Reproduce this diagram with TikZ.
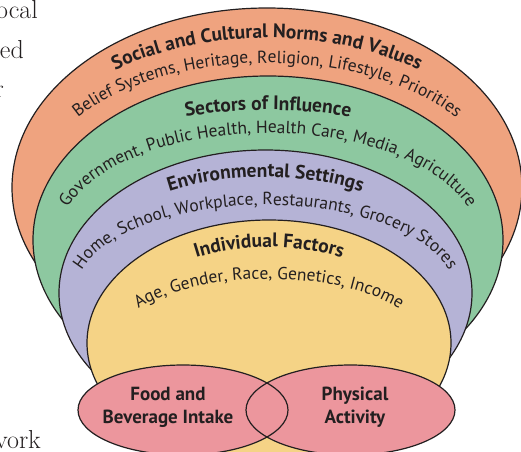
\documentclass[tikz,border=0pt]{standalone}
\usepackage{fontspec}
\newfontfamily\figfont{PT Sans}
\usetikzlibrary{decorations.text}

\definecolor{ink}{HTML}{231F20}
\definecolor{normsfill}{HTML}{EFA37F}
\definecolor{sectorfill}{HTML}{8DC8A0}
\definecolor{settingfill}{HTML}{B5B3D6}
\definecolor{personfill}{HTML}{F5D386}
\definecolor{behavefill}{HTML}{EC969D}

\newcommand\bandtitle{\figfont\fontsize{19.5}{22}\selectfont\bfseries\color{ink}}
\newcommand\bandtext{\figfont\fontsize{17.5}{20}\selectfont\color{ink}}

\begin{document}
\begin{tikzpicture}[x=1pt, y=1pt,
  layer/.style={draw=ink, line width=1.20pt},
  blobtext/.style={font=\figfont\bfseries\fontsize{19}{23}\selectfont, text=ink, align=center, inner sep=0pt},
  pagetext/.style={font=\fontsize{26}{30}\selectfont, text=ink, anchor=base east, inner sep=0pt}]
\useasboundingbox (0,0) rectangle (521,451);
\coordinate (CN) at (267.00, 263.50); % norms
\coordinate (CS) at (268.00, 211.00); % sectors
\coordinate (CE) at (265.50, 158.00); % settings
\coordinate (CI) at (269.00, 108.00); % individual
\coordinate (CF) at (183.00, 41.00); % food
\coordinate (CA) at (350.50, 41.00); % activity

\draw[layer, fill=normsfill] (CN) ellipse [x radius=255, y radius=179.5];
\draw[layer, fill=sectorfill] (CS) ellipse [x radius=235, y radius=164];
\draw[layer, fill=settingfill] (CE) ellipse [x radius=206.5, y radius=143];
\draw[layer, fill=personfill] (CI) ellipse [x radius=182, y radius=123];

% curved labels
\path[decorate, decoration={text along path, text align=center,
  text={|\bandtitle|Social and Cultural Norms and Values}}]
  ([shift={(CN)}]195:245 and 149.5) arc [start angle=195, end angle=-15, x radius=245, y radius=149.5];
\path[decorate, decoration={text along path, text align=center,
  text={|\bandtext|Belief Systems, Heritage, Religion, Lifestyle, Priorities}}]
  ([shift={(CN)}]200:228 and 124.5) arc [start angle=200, end angle=-20, x radius=228, y radius=124.5];
\path[decorate, decoration={text along path, text align=center,
  text={|\bandtitle|Sectors of Influence}}]
  ([shift={(CS)}]195:255 and 130) arc [start angle=195, end angle=-15, x radius=255, y radius=130];
\path[decorate, decoration={text along path, text align=center,
  text={|\bandtext|Government, Public Health, Health Care, Media, Agriculture}}]
  ([shift={(CS)}]205:210 and 107) arc [start angle=205, end angle=-25, x radius=210, y radius=107];
\path[decorate, decoration={text along path, text align=center,
  text={|\bandtitle|Environmental Settings}}]
  ([shift={(CE)}]195:198 and 116) arc [start angle=195, end angle=-15, x radius=198, y radius=116];
\path[decorate, decoration={text along path, text align=center,
  text={|\bandtext|Home, School, Workplace, Restaurants, Grocery Stores}}]
  ([shift={(CE)}]205:190 and 88) arc [start angle=205, end angle=-25, x radius=190, y radius=88];
\path[decorate, decoration={text along path, text align=center,
  text={|\bandtitle|Individual Factors}}]
  ([shift={(CI)}]195:157 and 96) arc [start angle=195, end angle=-15, x radius=157, y radius=96];
\path[decorate, decoration={text along path, text align=center,
  text={|\bandtext|Age, Gender, Race, Genetics, Income}}]
  ([shift={(CI)}]200:154 and 64) arc [start angle=200, end angle=-20, x radius=154, y radius=64];

% intake and activity
\fill[behavefill] (CF) ellipse [x radius=105, y radius=45];
\fill[behavefill] (CA) ellipse [x radius=104.5, y radius=45];
\draw[layer] (CF) ellipse [x radius=105, y radius=45];
\draw[layer] (CA) ellipse [x radius=104.5, y radius=45];
\node[blobtext] (food) at (168.00, 44.00) {Food and\\Beverage Intake};
\node[blobtext] (activity) at (355.00, 44.00) {Physical\\Activity};

% page text cut at the left edge
\node[pagetext] (lineA) at (38.00, 432.00) {ocal};
\node[pagetext] (lineB) at (24.00, 393.00) {ed};
\node[pagetext] (lineC) at (4.00, 354.00) {r};
\node[pagetext] (lineD) at (41.00, 3.00) {vork};
\end{tikzpicture}
\end{document}
